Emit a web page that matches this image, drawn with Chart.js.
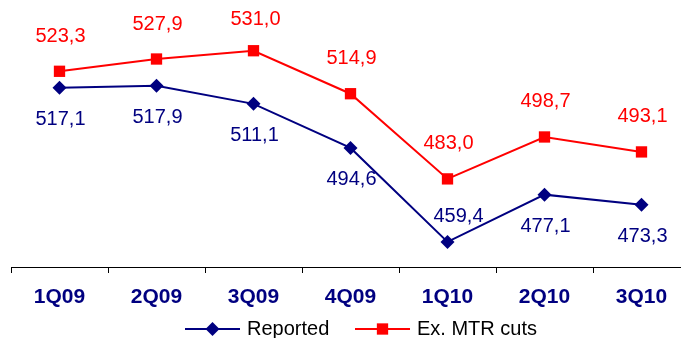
<!DOCTYPE html>
<html>
<head>
<meta charset="utf-8">
<script src="https://cdn.jsdelivr.net/npm/chart.js@4"></script>
<style>
  html, body { margin: 0; padding: 0; background: #fff; overflow: hidden; }
  #wrap { width: 681px; height: 338px; overflow: hidden; }
</style>
</head>
<body>
<div id="wrap"><canvas id="myChart" width="690" height="338"></canvas></div>
<script>
const quarters = ['1Q09', '2Q09', '3Q09', '4Q09', '1Q10', '2Q10', '3Q10'];
const reported = [517.1, 517.9, 511.1, 494.6, 459.4, 477.1, 473.3];
const exMtrCuts = [523.3, 527.9, 531.0, 514.9, 483.0, 498.7, 493.1];

const NAVY = '#000080';
const RED = '#ff0000';
const FONT = "'Liberation Sans', Arial, sans-serif";

function fmt(v) {
    return v.toFixed(1).replace('.', ',');
}

// value labels next to each point (above / below, with small nudges)
const valueLabels = {
    id: 'valueLabels',
    afterDatasetsDraw(chart) {
        const ctx = chart.ctx;
        ctx.save();
        ctx.font = '20px ' + FONT;
        ctx.textAlign = 'center';
        ctx.textBaseline = 'middle';
        chart.data.datasets.forEach((ds, i) => {
            const meta = chart.getDatasetMeta(i);
            meta.data.forEach((pt, j) => {
                const off = ds.labelOffsets[j] || ds.labelOffsets.def;
                ctx.fillStyle = ds.borderColor;
                ctx.fillText(fmt(ds.data[j]), pt.x + off[0], pt.y + off[1]);
            });
        });
        ctx.restore();
    }
};

// legend with a short line through the marker
const lineLegend = {
    id: 'lineLegend',
    afterDraw(chart) {
        const ctx = chart.ctx;
        const y = 329;
        const items = [
            { x: 185, ds: chart.data.datasets[0] },
            { x: 355, ds: chart.data.datasets[1] }
        ];
        ctx.save();
        items.forEach(it => {
            const ds = it.ds;
            ctx.strokeStyle = ds.borderColor;
            ctx.lineWidth = ds.borderWidth;
            ctx.beginPath();
            ctx.moveTo(it.x, y);
            ctx.lineTo(it.x + 55, y);
            ctx.stroke();
            ctx.fillStyle = ds.borderColor;
            Chart.helpers.drawPoint(ctx, {
                pointStyle: ds.pointStyle,
                radius: ds.pointRadius,
                borderWidth: 0
            }, it.x + 27.5, y);
            ctx.fillStyle = '#000';
            ctx.font = '20px ' + FONT;
            ctx.textAlign = 'left';
            ctx.textBaseline = 'middle';
            ctx.fillText(ds.label, it.x + 62, y);
        });
        ctx.restore();
    }
};

new Chart(document.getElementById('myChart'), {
    type: 'line',
    data: {
        labels: quarters,
        datasets: [{
            label: 'Reported',
            data: reported,
            borderColor: NAVY,
            backgroundColor: NAVY,
            borderWidth: 2,
            pointStyle: 'rectRot',
            pointRadius: 7,
            pointBorderWidth: 0,
            clip: false,
            labelOffsets: { def: [1, 32], 4: [11, -25] }
        }, {
            label: 'Ex. MTR cuts',
            data: exMtrCuts,
            borderColor: RED,
            backgroundColor: RED,
            borderWidth: 2,
            pointStyle: 'rect',
            pointRadius: 8,
            pointBorderWidth: 0,
            clip: false,
            labelOffsets: { def: [1, -35], 2: [2, -31] }
        }]
    },
    options: {
        responsive: false,
        animation: false,
        layout: { autoPadding: false, padding: { left: 11, right: 0, top: 0, bottom: 0 } },
        plugins: {
            legend: { display: false },
            tooltip: { enabled: false }
        },
        scales: {
            x: {
                offset: true,
                grid: {
                    offset: true,
                    drawOnChartArea: false,
                    drawTicks: true,
                    tickLength: 6,
                    color: '#000'
                },
                border: { display: true, color: '#000', width: 1 },
                ticks: {
                    padding: 12,
                    color: NAVY,
                    font: { family: FONT, size: 21, weight: 'bold' }
                },
                afterFit(scale) { scale.height = 71; }
            },
            y: {
                display: false,
                min: 450,
                max: 550
            }
        }
    },
    plugins: [valueLabels, lineLegend]
});
</script>
</body>
</html>
